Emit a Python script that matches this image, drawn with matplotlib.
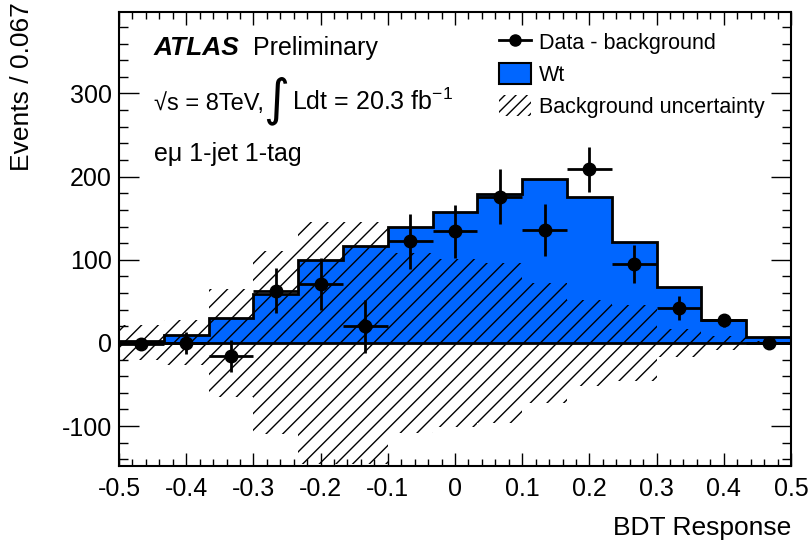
import numpy as np
import matplotlib
matplotlib.use("Agg")
import matplotlib.pyplot as plt
from matplotlib.lines import Line2D
from matplotlib.patches import Patch
from matplotlib.ticker import MultipleLocator

plt.rcParams['font.family'] = ['Liberation Sans', 'DejaVu Sans']
plt.rcParams['mathtext.fontset'] = 'custom'
plt.rcParams['mathtext.rm'] = 'Liberation Sans'
plt.rcParams['mathtext.it'] = 'Liberation Sans:italic'
plt.rcParams['hatch.linewidth'] = 1.0

# BDT bins: 15 bins from -0.5 to 0.5
bin_edges = np.linspace(-0.5, 0.5, 16)

# Wt signal expectation per bin
wt_counts = [2, 9, 30, 59, 100, 116, 139, 157, 179, 197, 175, 121, 67, 27, 7.5]

# data minus background, with stat errors
data_sub = [-1, 0, -16, 63, 71, 20, 122, 134, 176, 136, 209, 95, 42, 27, 0]
data_err = [6, 13, 19, 27, 31, 32, 33, 32, 33, 31, 27, 23, 14, 8, 3]

# background uncertainty band half-width
bkg_unc = [21, 27, 65, 110, 146, 146, 108, 101, 96, 72, 52, 46, 17, 8, 2]

blue = '#0066ff'

fig = plt.figure(figsize=(8.12, 5.44), dpi=100)
ax = fig.add_axes([0.1466, 0.1434, 0.8275, 0.8346])

centers = 0.5 * (bin_edges[:-1] + bin_edges[1:])
half_w = 0.5 * np.diff(bin_edges)

ax.stairs(wt_counts, bin_edges, fill=True, color=blue, zorder=1)

unc = np.append(bkg_unc, bkg_unc[-1])
ax.fill_between(bin_edges, -unc, unc, step='post', facecolor='none',
                edgecolor='black', hatch='//', linewidth=0, zorder=2)

ax.stairs(wt_counts, bin_edges, color='black', linewidth=2, zorder=3)
ax.axhline(0, color='black', linewidth=2, zorder=3)

ax.errorbar(centers, data_sub, xerr=half_w, yerr=data_err, fmt='o',
            color='black', ms=9, elinewidth=2, capsize=0, zorder=5)

ax.set_xlim(-0.5, 0.5)
ax.set_ylim(-148, 398)

ax.xaxis.set_minor_locator(MultipleLocator(0.02))
ax.yaxis.set_minor_locator(MultipleLocator(20))
ax.set_xticks(np.round(np.arange(-0.5, 0.51, 0.1), 2))
ax.set_xticklabels(['-0.5', '-0.4', '-0.3', '-0.2', '-0.1', '0', '0.1',
                    '0.2', '0.3', '0.4', '0.5'])
ax.set_yticks([-100, 0, 100, 200, 300])
ax.set_yticklabels(['-100', '0', '100', '200', '300'])

ax.tick_params(axis='both', which='both', direction='in', top=True,
               right=True, width=1.0, labelsize=18)
ax.tick_params(axis='x', which='major', length=9.5, pad=8)
ax.tick_params(axis='x', which='minor', length=5)
ax.tick_params(axis='y', which='major', length=14.5, pad=5)
ax.tick_params(axis='y', which='minor', length=6.5)
for sp in ax.spines.values():
    sp.set_linewidth(1.5)

fig.text(0.974, 0.017, 'BDT Response', ha='right', va='baseline', fontsize=19)
fig.text(0.027, 0.997, 'Events / 0.067', ha='center', va='top',
         rotation=90, fontsize=19)

# labels inside the plot
ax.text(0.052, 0.905, 'ATLAS', transform=ax.transAxes, fontsize=19,
        fontweight='bold', fontstyle='italic', va='baseline')
ax.text(0.2, 0.905, 'Preliminary', transform=ax.transAxes, fontsize=18,
        va='baseline')
ax.text(0.052, 0.784, '\u221as = 8TeV,',
        transform=ax.transAxes, fontsize=17, va='baseline')
ax.text(0.2345, 0.805, '\u222b', transform=ax.transAxes, fontsize=36,
        va='center', ha='center', family='DejaVu Sans')
ax.text(0.258, 0.784, 'Ldt = 20.3 fb$^{-1}$',
        transform=ax.transAxes, fontsize=18, va='baseline')
ax.text(0.052, 0.672, 'e\u03bc 1-jet 1-tag', transform=ax.transAxes,
        fontsize=18, va='baseline')

handles = [
    Line2D([], [], color='black', marker='o', ms=8, linewidth=2),
    Patch(facecolor=blue, edgecolor='black', linewidth=1.5),
    Patch(facecolor='none', edgecolor='black', hatch='///', linewidth=0),
]
labels = ['Data - background', 'Wt', 'Background uncertainty']
ax.legend(handles, labels, loc='upper left', bbox_to_anchor=(0.5655, 0.957),
          frameon=False, fontsize=15.5, borderpad=0, borderaxespad=0,
          handlelength=1.5, handleheight=1.1, handletextpad=0.35,
          labelspacing=0.43)

fig.savefig('out.png', dpi=100)
